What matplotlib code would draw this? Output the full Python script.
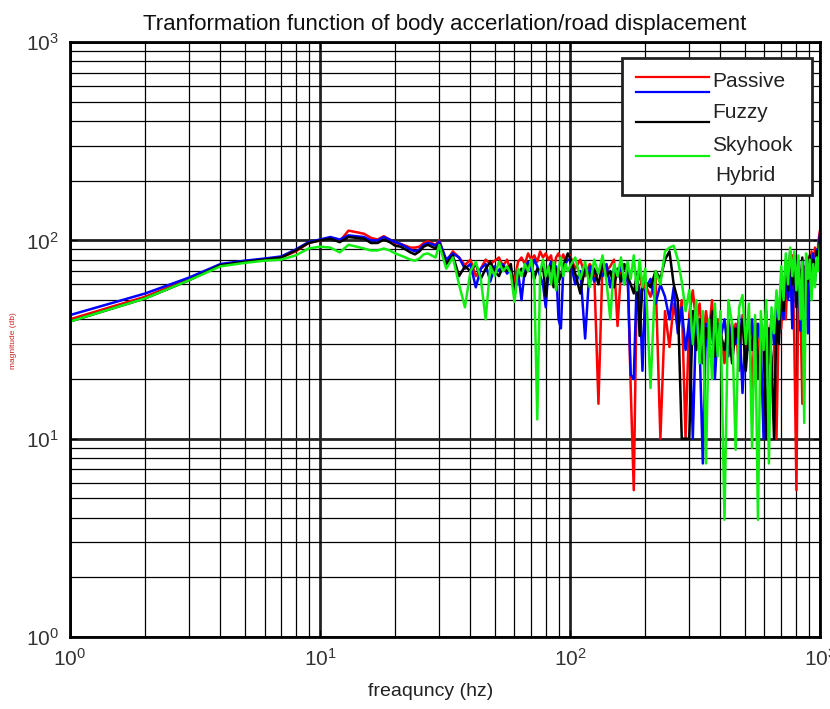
import matplotlib.pyplot as plt
from matplotlib.patches import Rectangle

plt.rcParams['font.family'] = ['Liberation Sans', 'DejaVu Sans']
plt.rcParams['mathtext.default'] = 'regular'

# frequency points (hz)
freq = (list(range(1, 31)) + list(range(32, 100, 2)) + list(range(100, 200, 5))
        + list(range(200, 400, 10)) + list(range(400, 1001, 15)))

passive = ([40, 52, 64, 75, 78, 80, 82, 88, 97, 100, 103, 99, 112, 110, 108, 103, 101, 105, 101, 97,
            96, 94, 92, 92, 93, 97, 99, 97, 95, 100]
           + [78, 88, 82, 75, 80, 66, 72, 80, 76, 79, 82, 74, 80, 70, 62, 78, 82, 76, 86, 80,
              84, 78, 88, 82, 86, 80, 84, 70, 82, 86, 80, 85, 78, 84]
           + [84, 72, 80, 66, 76, 70, 15, 78, 70, 74, 80, 37, 70, 64, 72, 18, 5.5, 60, 68, 56]
           + [60, 52, 66, 10, 44, 29, 48, 36, 50, 10, 42, 56, 38, 48, 30, 44, 34, 50, 28, 40]
           + [36, 24, 40, 30, 38, 22, 42, 28, 36, 18, 40, 26, 38, 30, 44, 24, 40, 32, 10, 44,
              36, 60, 40, 76, 52, 84, 30, 5.5, 70, 50, 15, 74, 60, 82, 56, 88, 64, 92, 70, 98, 112])

fuzzy = ([42, 54, 65, 76, 79, 81, 83, 90, 98, 101, 104, 101, 106, 105, 104, 100, 100, 104, 101, 98,
          96, 93, 90, 88, 90, 95, 97, 96, 94, 99]
         + [80, 86, 82, 72, 76, 58, 72, 76, 62, 74, 70, 76, 68, 72, 52, 70, 50, 72, 78, 70,
            80, 74, 66, 60, 46, 72, 78, 64, 74, 40, 36, 70, 76, 80]
         + [80, 60, 70, 32, 74, 62, 70, 66, 76, 58, 72, 66, 74, 60, 70, 21, 20, 64, 56, 22]
         + [56, 64, 48, 60, 52, 40, 58, 34, 46, 28, 40, 10, 44, 30, 7.5, 38, 26, 42, 20, 36]
         + [32, 40, 26, 38, 30, 42, 17, 36, 28, 40, 24, 38, 30, 10, 36, 26, 42, 30, 46, 34,
            54, 40, 72, 50, 82, 36, 70, 54, 78, 35, 66, 48, 80, 34, 72, 56, 86, 62, 90, 76, 108])

skyhook = ([39, 51, 63, 75, 78, 80, 82, 89, 97, 100, 102, 98, 104, 103, 102, 97, 97, 101, 98, 94,
            93, 90, 87, 85, 88, 93, 95, 93, 91, 96]
           + [76, 84, 66, 74, 70, 76, 64, 72, 78, 70, 66, 74, 70, 76, 54, 68, 72, 66, 74, 78,
              64, 72, 70, 76, 52, 70, 74, 58, 72, 62, 66, 74, 80, 86]
           + [82, 68, 54, 74, 64, 72, 60, 76, 66, 70, 58, 72, 62, 76, 66, 60, 54, 68, 33, 60]
           + [62, 58, 70, 64, 80, 88, 60, 50, 10, 10, 10, 44, 28, 40, 24, 36, 30, 44, 26, 38]
           + [34, 28, 38, 24, 36, 30, 40, 22, 36, 28, 38, 20, 34, 30, 10, 36, 26, 10, 40, 30,
              58, 44, 80, 56, 88, 60, 84, 46, 76, 58, 82, 40, 74, 62, 84, 58, 80, 66, 88, 80, 104])

hybrid = ([39, 51, 63, 74, 77, 79, 80, 84, 91, 93, 92, 87, 95, 93, 91, 89, 89, 91, 89, 86,
           84, 82, 80, 79, 81, 85, 86, 84, 82, 95]
          + [72, 82, 60, 46, 70, 78, 64, 40, 74, 66, 78, 70, 74, 68, 49, 72, 66, 76, 70, 80,
             62, 12.5, 70, 80, 66, 74, 60, 78, 56, 72, 82, 66, 76, 70]
          + [74, 82, 64, 78, 58, 80, 68, 84, 62, 40, 76, 66, 82, 60, 78, 64, 84, 56, 80, 58]
          + [72, 18, 70, 60, 88, 92, 94, 80, 62, 44, 56, 30, 50, 24, 44, 7.5, 40, 20, 48, 26]
          + [44, 3.9, 50, 38, 8.8, 46, 53, 30, 48, 9, 42, 3.9, 44, 28, 50, 7.5, 46, 34, 56, 40,
             74, 50, 86, 60, 92, 66, 88, 56, 84, 40, 78, 12, 86, 64, 80, 50, 76, 58, 82, 70, 96])

names = ["Passive", "Fuzzy", "Skyhook", "Hybrid"]
colors = ["#ff0000", "#0000ff", "#000000", "#11ee11"]
series = [passive, fuzzy, skyhook, hybrid]

fig = plt.figure(figsize=(8.3, 7.09), dpi=100)
ax = fig.add_axes([0.0843, 0.1016, 0.9036, 0.839])

for s, c in zip(series, colors):
    ax.plot(freq, s, color=c, lw=1.8)

ax.set_xscale("log")
ax.set_yscale("log")
ax.set_xlim(1, 1000)
ax.set_ylim(1, 1000)

ax.grid(True, which="major", color="#222222", lw=2.0)
ax.grid(True, which="minor", color="#000000", lw=0.9)
ax.tick_params(which="both", direction="in", top=True, right=True, color="#000000")
ax.tick_params(which="major", labelsize=15, labelcolor="#333333", pad=8, length=5)
for sp in ax.spines.values():
    sp.set_linewidth(2)

ax.set_title("Tranformation function of body accerlation/road displacement",
             fontsize=16, pad=9, color="#111111")

fig.text(0.519, 0.025, "freaquncy (hz)", ha="center", va="center", fontsize=14,
         color="#222222")
fig.text(0.016, 0.52, "magnitude (db)", rotation=90, ha="center", va="center",
         fontsize=6, color="#cc2222")

# legend drawn by hand (labels sit offset from their lines)
ax.add_patch(Rectangle((0.736, 0.743), 0.253, 0.230, transform=ax.transAxes,
                       facecolor="white", edgecolor="#222222", lw=2, zorder=5))
line_y = [0.941, 0.916, 0.866, 0.808]
text_y = [0.933, 0.882, 0.827, 0.775]
text_x = [0.856, 0.856, 0.856, 0.860]
for c, ly in zip(colors, line_y):
    ax.plot([0.755, 0.852], [ly, ly], color=c, lw=1.6, transform=ax.transAxes, zorder=6)
for n, tx, ty in zip(names, text_x, text_y):
    ax.text(tx, ty, n, transform=ax.transAxes, fontsize=15, va="center", color="#222222",
            zorder=6)

fig.savefig("out.png", dpi=100)
